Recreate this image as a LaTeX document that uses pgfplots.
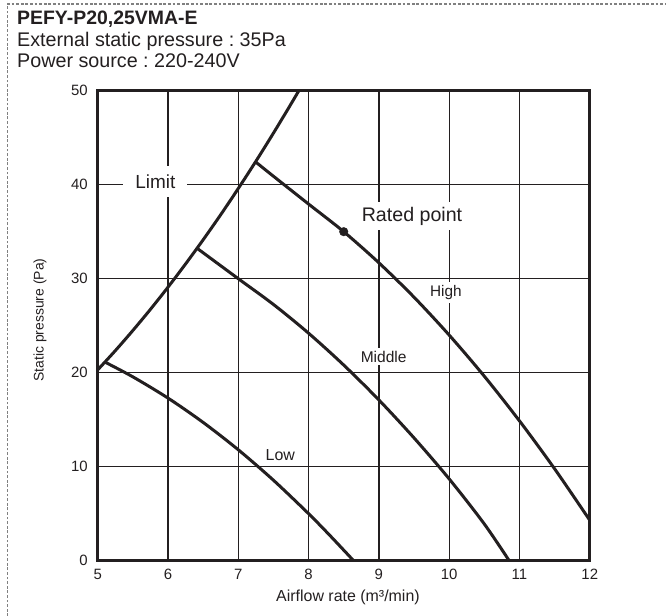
\documentclass[border=0pt]{standalone}
\usepackage{fontspec}
\setmainfont{Liberation Sans}
\usepackage{pgfplots}
\pgfplotsset{compat=1.18}
\definecolor{ink}{RGB}{35,31,32}
\frenchspacing

\begin{document}
\begin{tikzpicture}
\useasboundingbox (-97.7bp,-55.3bp) rectangle (568.3bp,560.7bp);
% dotted frame
\draw[black!50, line width=1.3bp, dash pattern=on 2.8bp off 1.8bp]
  (-90.4bp,-60bp) -- (-90.4bp,556.7bp) -- (575bp,556.7bp);
% header
\node[anchor=base west, inner sep=0pt, text=ink, font=\fontsize{19.5}{20}\selectfont\bfseries]
  at (-80.7bp,535.7bp) {PEFY-P20,25VMA-E};
\node[anchor=base west, inner sep=0pt, text=ink, font=\fontsize{19.8}{20}\selectfont]
  at (-80.7bp,514.2bp) {External static pressure : 35Pa};
\node[anchor=base west, inner sep=0pt, text=ink, font=\fontsize{19.8}{20}\selectfont]
  at (-80.7bp,492.7bp) {Power source : 220-240V};

\begin{axis}[
  at={(0,0)}, anchor=south west,
  scale only axis, width=492.1bp, height=470bp,
  xmin=5, xmax=12, ymin=0, ymax=50,
  xtick={5,6,...,12}, ytick={0,10,...,50},
  grid=major,
  major grid style={ink, line width=1.3bp},
  major tick length=0pt,
  axis line style={ink, line width=2.7bp},
  /pgf/number format/assume math mode=true,
  tick label style={font=\fontsize{15}{16}\selectfont, text=ink, inner sep=0pt},
  xticklabel style={yshift=-8bp},
  yticklabel style={xshift=-9.7bp},
  xlabel={Airflow rate (m³/min)},
  ylabel={Static pressure (Pa)},
  xlabel style={at={(axis description cs:0.5086,-0.0772)}, anchor=center,
    font=\fontsize{16}{17}\selectfont, text=ink},
  ylabel style={at={(axis description cs:-0.1173,0.512)}, anchor=center,
    font=\fontsize{14}{15}\selectfont, text=ink},
]
% Limit
\addplot[ink, line width=3bp, smooth] coordinates {
  (5,20.3) (5.25,22.34) (5.5,24.49) (5.75,26.74) (6,29.1) (6.25,31.57)
  (6.5,34.14) (6.75,36.81) (7,39.6) (7.25,42.49) (7.5,45.49) (7.75,48.59)
  (7.9,50.5)
};
% Low
\addplot[ink, line width=3bp, smooth] coordinates {
  (5.1,21.14) (5.5,19.56) (6,17.3) (6.5,14.71) (7,11.8) (7.5,8.56)
  (8,5.0) (8.3,2.71) (8.64,0)
};
% Middle
\addplot[ink, line width=3bp, smooth] coordinates {
  (6.42,33.2) (7,30.0) (7.5,27.26) (8,24.2) (8.5,20.81) (9,17.1)
  (9.5,13.06) (10,8.7) (10.5,3.9) (10.88,-0.3)
};
% High
\addplot[ink, line width=3bp, smooth] coordinates {
  (7.25,42.4) (7.5,40.9) (8,37.94) (8.5,35.0) (9,31.69) (9.5,28.03)
  (10,24.0) (10.5,19.62) (11,14.87) (11.5,9.77) (12,4.3)
};
% Rated point
\addplot[ink, only marks, mark=*, mark size=4.3bp] coordinates {(8.5,35)};

\node[fill=white, text=ink, inner xsep=12bp, inner ysep=8.5bp,
  font=\fontsize{19}{20}\selectfont] at (axis cs:5.82,40.3) {Limit};
\node[fill=white, text=ink, inner xsep=4bp, inner ysep=5bp,
  font=\fontsize{19.7}{20}\selectfont] at (axis cs:9.471,36.67) {Rated point};
\node[fill=white, text=ink, inner sep=3bp,
  font=\fontsize{15.4}{16}\selectfont] at (axis cs:9.952,28.53) {High};
\node[fill=white, text=ink, inner sep=3bp,
  font=\fontsize{15.6}{16}\selectfont] at (axis cs:9.068,21.70) {Middle};
\node[fill=white, text=ink, inner sep=3bp,
  font=\fontsize{16}{17}\selectfont] at (axis cs:7.597,11.24) {Low};
\end{axis}
\end{tikzpicture}
\end{document}
